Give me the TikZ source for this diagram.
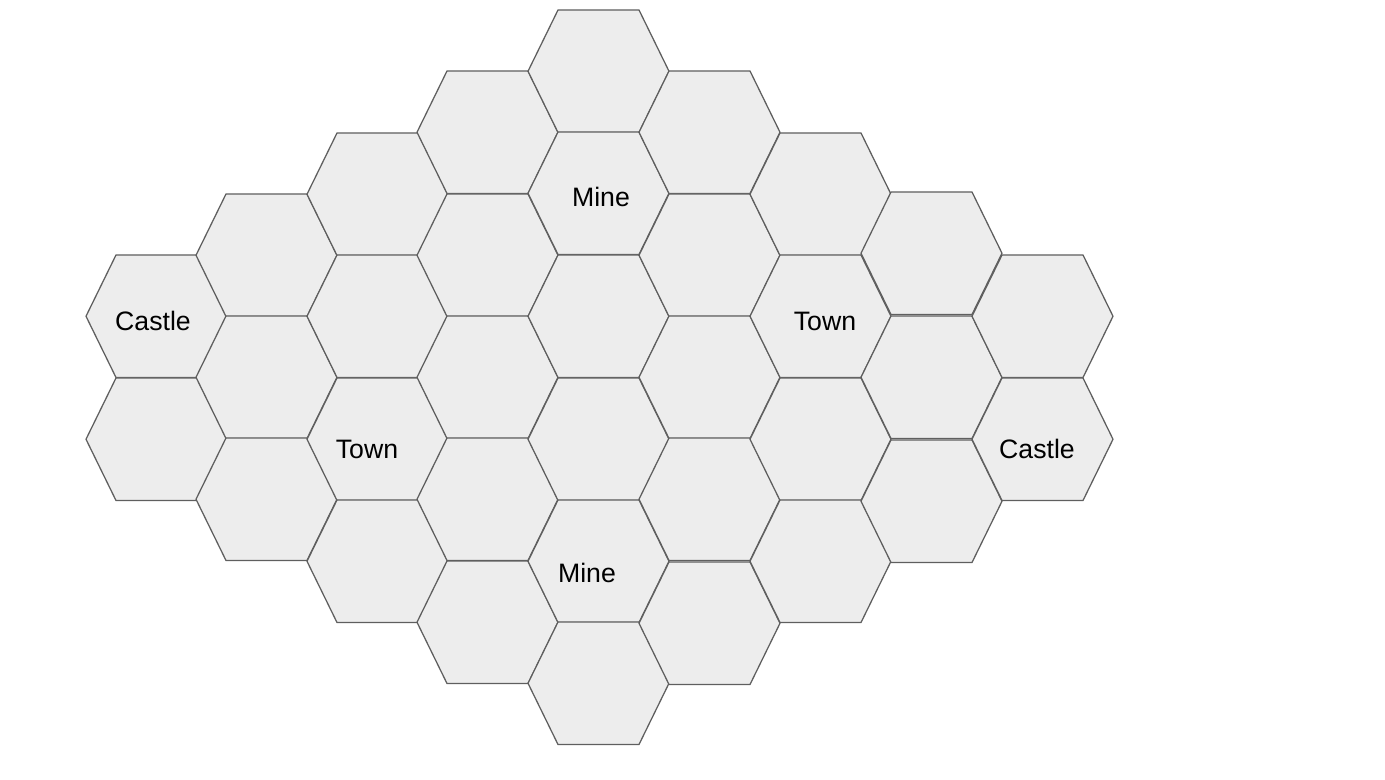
\documentclass[tikz,border=0pt]{standalone}
\usepackage{fontspec}
\setmainfont{Liberation Sans}
\definecolor{hexfill}{HTML}{EDEDED}
\definecolor{hexline}{HTML}{5F5F5F}
\tikzset{
  hexcell/.style={fill=hexfill, draw=hexline, line width=0.95pt, line join=miter},
  hexlabel/.style={anchor=base, inner sep=0pt, font=\fontsize{20}{24}\selectfont, text=black}
}
\newcommand{\hexat}[3]{% name, left x, top y
  \path[hexcell] (#2,#3+61.25) -- (#2+30,#3) -- (#2+111,#3) -- (#2+141,#3+61.25)
    -- (#2+111,#3+122.5) -- (#2+30,#3+122.5) -- cycle;
  \coordinate (#1) at (#2+70.5,#3+61.25);
}
\begin{document}
\begin{tikzpicture}[x=0.75pt,y=-0.75pt]
\useasboundingbox (0,0) rectangle (1385,780);
% column 1
\hexat{h11}{86}{255}
\hexat{h12}{86}{378}
% column 2
\hexat{h21}{196}{194}
\hexat{h22}{196}{316}
\hexat{h23}{196}{438}
% column 3
\hexat{h31}{307}{133}
\hexat{h32}{307}{255}
\hexat{h33}{307}{378}
\hexat{h34}{307}{500}
% column 4
\hexat{h41}{417}{71}
\hexat{h42}{417}{194}
\hexat{h43}{417}{316}
\hexat{h44}{417}{438}
\hexat{h45}{417}{561}
% column 5
\hexat{h51}{528}{10}
\hexat{h52}{528}{132}
\hexat{h53}{528}{255}
\hexat{h54}{528}{378}
\hexat{h55}{528}{500}
\hexat{h56}{528}{622}
% column 6
\hexat{h61}{639}{71}
\hexat{h62}{639}{194}
\hexat{h63}{639}{316}
\hexat{h64}{639}{438}
\hexat{h65}{639}{562}
% column 7
\hexat{h71}{750}{133}
\hexat{h72}{750}{255}
\hexat{h73}{750}{378}
\hexat{h74}{750}{500}
% column 8
\hexat{h81}{861}{192}
\hexat{h82}{861}{316}
\hexat{h83}{861}{440}
% column 9
\hexat{h91}{972}{255}
\hexat{h92}{972}{378}
% labels
\node[hexlabel] (castleA) at (153,331) {Castle};
\node[hexlabel] (mineA) at (601,207) {Mine};
\node[hexlabel] (townA) at (367,459) {Town};
\node[hexlabel] (townB) at (825,331) {Town};
\node[hexlabel] (castleB) at (1037,459) {Castle};
\node[hexlabel] (mineB) at (587,582) {Mine};
\end{tikzpicture}
\end{document}
